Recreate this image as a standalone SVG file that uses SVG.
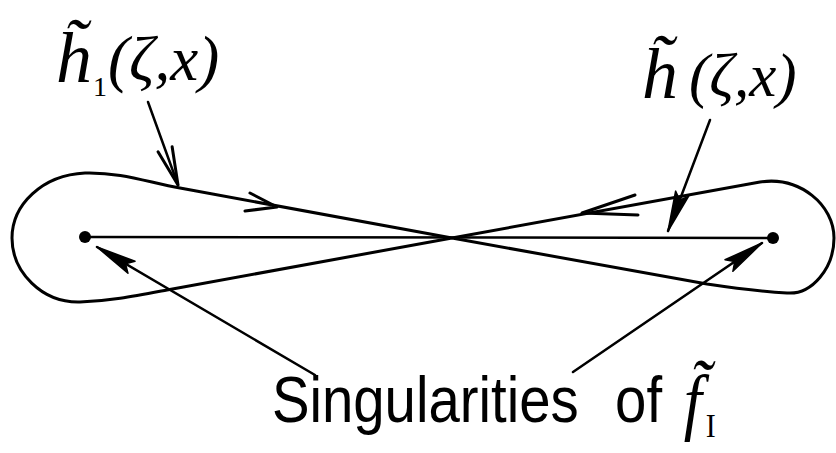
<svg xmlns="http://www.w3.org/2000/svg" width="836" height="453" viewBox="0 0 836 453">
<style>
  .ink { fill: none; stroke: #000; stroke-width: 3; stroke-linecap: round; stroke-linejoin: round; }
  .thin { fill: none; stroke: #000; stroke-width: 2.5; stroke-linecap: round; }
  .dot { fill: #000; }
  .math { font-family: "Liberation Serif", "DejaVu Serif", serif; font-style: italic; fill: #000; }
  .up { font-family: "Liberation Serif", "DejaVu Serif", serif; font-style: normal; }
  .hand { font-family: "Liberation Sans", "DejaVu Sans", sans-serif; fill: #000; }
</style>
<defs>
  <marker id="wedge" markerUnits="userSpaceOnUse" orient="auto" markerWidth="50" markerHeight="20" refX="0" refY="0" overflow="visible">
    <path d="M0,0 L-40,-7 L-33,0 L-40,7 Z" fill="#000" stroke="#000" stroke-width="1.5" stroke-linejoin="round"/>
  </marker>
  <marker id="chev" markerUnits="userSpaceOnUse" orient="auto" markerWidth="50" markerHeight="20" refX="0" refY="0" overflow="visible">
    <path d="M-38,-7.5 L0,0 L-38,7.5" fill="none" stroke="#000" stroke-width="3" stroke-linecap="round" stroke-linejoin="round"/>
  </marker>
</defs>
<rect width="836" height="453" fill="#fff"/>

<g id="contour">
  <path class="ink" d="M452,238 L180,188 C150,183 122,172 85,173 C42,175 12,205 12,238 C12,272 42,303 80,302 C110,301 135,296 167,290 L452,238 L760,182 C800,176 834,205 834,238 C834,268 812,295 787,293 C770,292 740,289 707,284 Z"/>
  <path class="ink" d="M250,193 L277,207 L245,211"/>
  <path class="ink" d="M635,195 L582,213 L638,215"/>
</g>

<g id="cut">
  <line class="thin" x1="86" y1="237" x2="773" y2="238"/>
</g>

<g id="sing-left">
  <circle class="dot" cx="85" cy="237" r="6"/>
</g>
<g id="sing-right">
  <circle class="dot" cx="773" cy="238" r="6"/>
</g>

<g id="connectors">
  <line class="thin" x1="148" y1="102" x2="178" y2="185" marker-end="url(#chev)"/>
  <line class="thin" x1="710" y1="120" x2="668" y2="231" marker-end="url(#wedge)"/>
  <line class="thin" x1="315" y1="375" x2="97" y2="247" marker-end="url(#wedge)"/>
  <line class="thin" x1="573" y1="372" x2="762" y2="243" marker-end="url(#wedge)"/>
</g>

<g id="label-h1">
  <text class="math"><tspan x="56" y="82" font-size="72">h̃</tspan><tspan class="up" x="93" y="96" font-size="28">1</tspan><tspan x="108" y="80" font-size="63">(ζ,x)</tspan></text>
</g>

<g id="label-h">
  <text class="math"><tspan x="642" y="98" font-size="72">h̃</tspan><tspan x="689" y="96" font-size="61">(ζ,x)</tspan></text>
</g>

<g id="label-sing">
  <text class="hand" font-size="64" transform="scale(0.88,1)"><tspan x="309" y="422">Singularities</tspan><tspan x="699" y="422">of</tspan><tspan class="math" x="777" y="426" font-size="74">f̃</tspan><tspan class="up" x="802" y="437" font-size="34">I</tspan></text>
</g>
</svg>
